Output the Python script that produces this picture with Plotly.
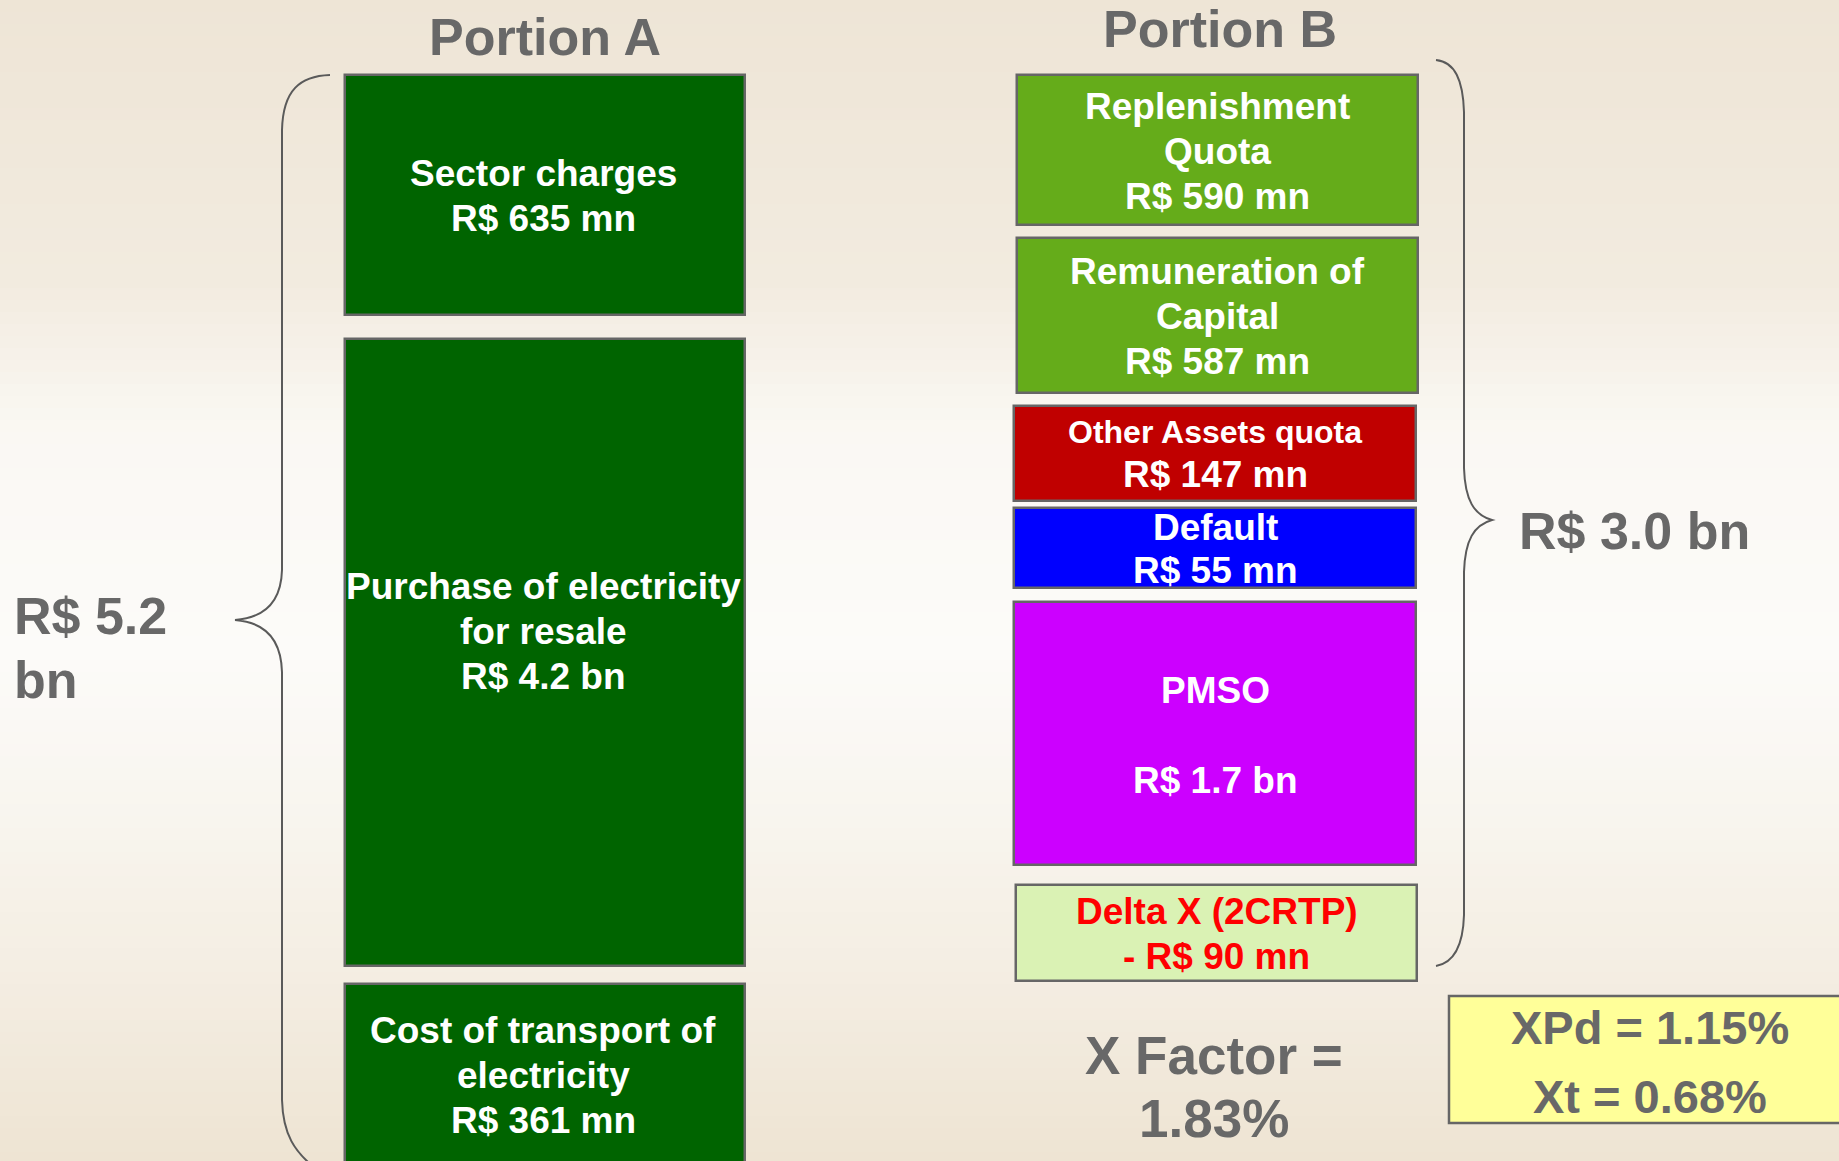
import plotly.graph_objects as go

# ---------------- data ----------------
headers = ["Portion A", "Portion B"]
labels_a = ["Sector charges", "Purchase of electricity<br>for resale", "Cost of transport of<br>electricity"]
values_a = ["R$ 635 mn", "R$ 4.2 bn", "R$ 361 mn"]
labels_b = ["Replenishment<br>Quota", "Remuneration of<br>Capital", "Other Assets quota", "Default", "PMSO<br>", "Delta X (2CRTP)"]
values_b = ["R$ 590 mn", "R$ 587 mn", "R$ 147 mn", "R$ 55 mn", "R$ 1.7 bn", "- R$ 90 mn"]
total_a = "R$ 5.2<br>bn"
total_b = "R$ 3.0 bn"
x_factor = "X Factor =<br>1.83%"
x_parts = ["XPd = 1.15%", "Xt = 0.68%"]

# ---------------- geometry / style (pixel space) ----------------
W, H = 1839, 1161
box_a = [(345, 745, 75, 315), (345, 745, 339, 966), (345, 745, 984, 1180)]
text_a_y = [196, 631, 1075]
box_b = [(1017, 1418, 75, 225), (1017, 1418, 238, 393), (1014, 1416, 406, 501),
         (1014, 1416, 508, 588), (1014, 1416, 602, 865), (1016, 1417, 885, 981)]
text_b_y = [151, 316, 453, 549, 735, 934]
col_a = ["#006400", "#006400", "#006400"]
col_b = ["#65AC1A", "#65AC1A", "#C00000", "#0000FF", "#CC00FF", "#DAF2B4"]
txtcol_b = ["white", "white", "white", "white", "white", "#FF0000"]
GRAY = "#686868"
FONT = "Liberation Sans, Arial, sans-serif"
BOX_FS = 37

fig = go.Figure()

# background gradient strips
stops = [(0, (238, 229, 214)), (280, (242, 235, 223)), (430, (250, 248, 243)),
         (650, (252, 251, 249)), (820, (248, 245, 238)), (1000, (243, 236, 224)), (1161, (238, 228, 211))]
def col_at(y):
    for (y0, c0), (y1, c1) in zip(stops[:-1], stops[1:]):
        if y0 <= y <= y1:
            t = (y - y0) / (y1 - y0)
            return "rgb(%d,%d,%d)" % tuple(round(a + (b - a) * t) for a, b in zip(c0, c1))
    return "rgb(%d,%d,%d)" % stops[-1][1]
step = 12
for y in range(0, H, step):
    fig.add_shape(type="rect", xref="x", yref="y", x0=0, x1=W, y0=y, y1=y + step + 1,
                  fillcolor=col_at(y + step / 2), line_width=0, layer="below")

# boxes as bars
boxes = box_a + box_b
cols = col_a + col_b
fig.add_trace(go.Bar(
    x=[(b[0] + b[1]) / 2 for b in boxes],
    base=[b[2] for b in boxes],
    y=[b[3] - b[2] for b in boxes],
    width=[b[1] - b[0] for b in boxes],
    marker=dict(color=cols, line=dict(color="#666666", width=2.5)),
    hoverinfo="skip", showlegend=False))

def ann(x, y, text, size, color, xanchor="center"):
    fig.add_annotation(x=x, y=y, xref="x", yref="y", text="<b>%s</b>" % text, showarrow=False,
                       font=dict(family=FONT, size=size, color=color), xanchor=xanchor,
                       yanchor="middle", align="center")

def block(x, cy, text, size, color, spacing, xanchor="center", sizes=None):
    lines = text.split("<br>")
    n = len(lines)
    for i, line in enumerate(lines):
        if line.strip() == "":
            continue
        s = sizes[i] if sizes else size
        ann(x, cy + (i - (n - 1) / 2) * spacing, line, s, color, xanchor)

for i, (lab, val) in enumerate(zip(labels_a, values_a)):
    b = box_a[i]
    block((b[0] + b[1]) / 2 - 2, text_a_y[i], lab + "<br>" + val, BOX_FS, "white", 45)

for i, (lab, val) in enumerate(zip(labels_b, values_b)):
    b = box_b[i]
    cx = (b[0] + b[1]) / 2
    if i == 2:
        block(cx, 453, lab + "<br>" + val, BOX_FS, txtcol_b[i], 42, sizes=[32, BOX_FS])
    elif i == 3:
        block(cx, text_b_y[i], lab + "<br>" + val, BOX_FS, txtcol_b[i], 43)
    else:
        block(cx, text_b_y[i], lab + "<br>" + val, BOX_FS, txtcol_b[i], 45)

# headers / totals
ann(545, 37, headers[0], 52, GRAY)
ann(1220, 29, headers[1], 52, GRAY)
block(12, 648, total_a, 52, GRAY, 64, xanchor="left")
ann(1517, 531, total_b, 52, GRAY, xanchor="left")
block(1214, 1087, x_factor, 53, GRAY, 63)

# yellow box
fig.add_shape(type="rect", xref="x", yref="y", x0=1449, x1=1850, y0=996, y1=1123,
              fillcolor="#FFFF99", line=dict(color="#666666", width=2.5))
ann(1650, 1027, x_parts[0], 47, GRAY)
ann(1650, 1096, x_parts[1], 47, GRAY)

# braces
brace_l = ("M 330 75 C 300 76 283 90 282 130 L 282 570 C 281 605 262 618 235 620 "
           "C 262 622 281 636 282 672 L 282 1100 C 283 1135 295 1152 315 1168")
brace_r = ("M 1436 60 C 1455 62 1463 80 1464 112 L 1464 468 C 1465 500 1474 515 1492 520 "
           "C 1474 525 1465 540 1464 572 L 1464 915 C 1463 948 1453 963 1436 966")
for p in (brace_l, brace_r):
    fig.add_shape(type="path", path=p, xref="x", yref="y", line=dict(color="#5a5a5a", width=2))

fig.update_layout(
    width=W, height=H, margin=dict(l=0, r=0, t=0, b=0),
    paper_bgcolor="rgb(248,245,238)", plot_bgcolor="rgba(0,0,0,0)",
    xaxis=dict(range=[0, W], visible=False, fixedrange=True),
    yaxis=dict(range=[H, 0], visible=False, fixedrange=True),
    bargap=0, showlegend=False,
)
fig.write_html("out.html", config={"displayModeBar": False},
               post_script="document.body.style.margin='0';document.body.style.overflow='hidden';")
